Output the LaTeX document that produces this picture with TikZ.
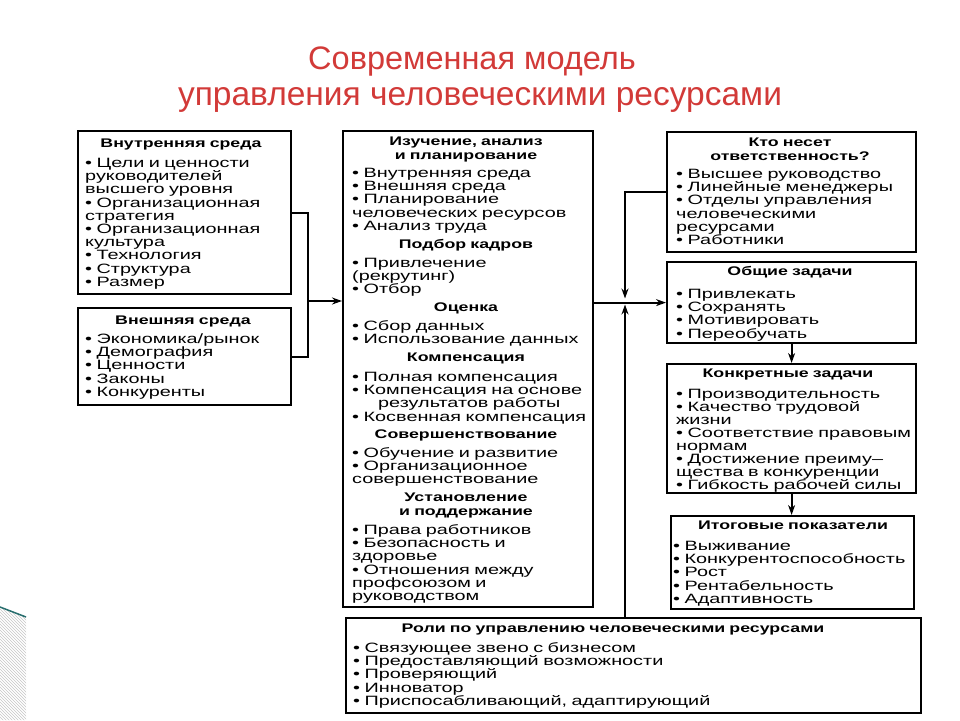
\documentclass[tikz,border=0pt]{standalone}
\usepackage{fontspec}
\setmainfont{Liberation Sans}[FakeStretch=1.42]
\newfontfamily\bodyfont{Liberation Sans}[FakeStretch=1.47]
\newfontfamily\titlefont{Liberation Sans}
\usetikzlibrary{arrows.meta,calc,patterns}
\definecolor{titlered}{RGB}{210,58,56}
\definecolor{decoteal}{RGB}{40,110,110}
\newcommand{\fsbody}{\bodyfont\fontsize{13.5}{13.2}\selectfont\lineskiplimit=-8pt\relax}
\newcommand{\fstight}{\bodyfont\fontsize{13.5}{13}\selectfont\lineskiplimit=-8pt\relax}
\newcommand{\fshead}{\fontsize{12.5}{14}\selectfont\bfseries\lineskiplimit=-8pt\relax}
\begin{document}
\begin{tikzpicture}[x=1pt,y=-1pt,
  box/.style={draw, line width=2.2pt, anchor=north west, inner sep=0pt},
  lst/.style={anchor=base west, inner sep=0pt, yshift=-1pt, text width=560pt, align=left, font=\fsbody},
  hdr/.style={anchor=base, inner sep=0pt, text width=560pt, align=center, font=\fshead},
  ttl/.style={inner sep=0pt, text=titlered, font=\titlefont\fontsize{33.5}{40}\selectfont},
  con/.style={line width=1.8pt},
  arr/.style={con, -{Stealth[length=10pt,width=7pt]}}
]
\useasboundingbox (0,0) rectangle (960,720);
% decoration bottom-left
\fill[pattern=north west lines, pattern color=gray!45] (0,607) -- (26,617) -- (26,720) -- (0,720) -- cycle;
\draw[decoteal, line width=1.5pt] (0,607) -- (26,617);

% title
\node[ttl, font=\titlefont\fontsize{32.5}{40}\selectfont] (t1) at (472,62) {Современная модель};
\node[ttl] (t2) at (480,100) {управления человеческими ресурсами};

% boxes
\node[box, minimum width=213pt, minimum height=163pt] (inner) at (77,130) {};
\node[box, minimum width=213pt, minimum height=97pt] (outer) at (77,307) {};
\node[box, minimum width=250pt, minimum height=476pt] (mid) at (342,130) {};
\node[box, minimum width=249pt, minimum height=120pt] (who) at (666,131) {};
\node[box, minimum width=249pt, minimum height=81pt] (goals) at (666,261) {};
\node[box, minimum width=249pt, minimum height=129pt] (tasks) at (666,363) {};
\node[box, minimum width=243pt, minimum height=93pt] (results) at (670,515) {};
\node[box, minimum width=575pt, minimum height=95pt] (roles) at (345,617) {};

% left boxes text
\node[hdr] (h1) at (181,147) {Внутренняя среда};
\node[lst] (l1) at (85,166.5) {• Цели и ценности\\руководителей\\высшего уровня\\• Организационная\\стратегия\\• Организационная\\культура\\• Технология\\• Структура\\• Размер};
\node[hdr] (h2) at (183,324) {Внешняя среда};
\node[lst] (l2) at (85,342.5) {• Экономика/рынок\\• Демография\\• Ценности\\• Законы\\• Конкуренты};

% middle box text
\node[hdr] (m1) at (466,145.5) {Изучение, анализ\\и планирование};
\node[lst] (ml1) at (352,176.5) {• Внутренняя среда\\• Внешняя среда\\• Планирование\\человеческих ресурсов\\• Анализ труда};
\node[hdr] (m2) at (466,248.5) {Подбор кадров};
\node[lst] (ml2) at (352,266.5) {• Привлечение\\(рекрутинг)\\• Отбор};
\node[hdr] (m3) at (466,311.5) {Оценка};
\node[lst] (ml3) at (352,329.5) {• Сбор данных\\• Использование данных};
\node[hdr] (m4) at (466,361.5) {Компенсация};
\node[lst] (ml4) at (352,380.5) {• Полная компенсация\\• Компенсация на основе\\\hspace*{26pt}результатов работы\\• Косвенная компенсация};
\node[hdr] (m5) at (466,438.5) {Совершенствование};
\node[lst] (ml5) at (352,456.5) {• Обучение и развитие\\• Организационное\\совершенствование};
\node[hdr] (m6) at (466,501.5) {Установление\\и поддержание};
\node[lst] (ml6) at (352,533.5) {• Права работников\\• Безопасность и\\здоровье\\• Отношения между\\профсоюзом и\\руководством};

% right boxes text
\node[hdr] (r1) at (790,146.5) {Кто несет\\ответственность?};
\node[lst] (rl1) at (676,177.5) {• Высшее руководство\\• Линейные менеджеры\\• Отделы управления\\человеческими\\ресурсами\\• Работники};
\node[hdr] (r2) at (790,275.5) {Общие задачи};
\node[lst] (rl2) at (676,297.5) {• Привлекать\\• Сохранять\\• Мотивировать\\• Переобучать};
\node[hdr] (r3) at (788,377.5) {Конкретные задачи};
\node[lst, font=\fstight] (rl3) at (676,397) {• Производительность\\• Качество трудовой\\жизни\\• Соответствие правовым\\нормам\\• Достижение преиму–\\щества в конкуренции\\• Гибкость рабочей силы};
\node[hdr] (r4) at (793,529.5) {Итоговые показатели};
\node[lst] (rl4) at (673,549.5) {• Выживание\\• Конкурентоспособность\\• Рост\\• Рентабельность\\• Адаптивность};

% bottom box text
\node[hdr] (b1) at (613,632.5) {Роли по управлению человеческими ресурсами};
\node[lst] (bl1) at (353,651.5) {• Связующее звено с бизнесом\\• Предоставляющий возможности\\• Проверяющий\\• Инноватор\\• Приспосабливающий, адаптирующий};

% left connectors
\coordinate (lj) at (308,301);
\draw[con] (inner.east) -- (inner.east -| lj) -- (outer.east -| lj) -- (outer.east);
\draw[arr] (lj) -- (lj -| mid.west);

% right connectors
\coordinate (rj) at (625,301.5);
\draw[arr] (who.west) -| ($(rj)+(0,-3)$);
\draw[arr] (mid.east |- goals.west) -- (goals.west);
\draw[arr] (roles.north -| rj) -- ($(rj)+(0,3)$);
\draw[arr] (goals.south) -- (tasks.north);
\draw[arr] (tasks.south) -- (tasks.south |- results.north);
\end{tikzpicture}
\end{document}
